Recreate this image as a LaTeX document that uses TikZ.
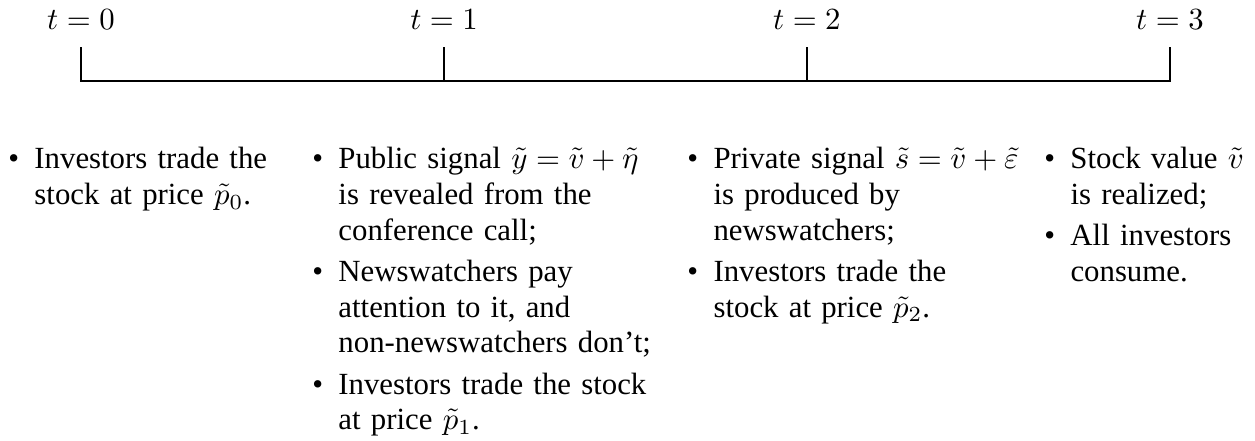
\documentclass[tikz,border=0pt]{standalone}
\usepackage{amsmath}
\usepackage[no-math]{fontspec}
\setmainfont{Liberation Serif}
\usepackage{tikz}
\usetikzlibrary{positioning}

\newcommand{\evbullet}{\leavevmode\strut\llap{\textbullet\hspace{5pt}}}

\begin{document}
\begin{tikzpicture}[
  x=1pt, y=1pt,
  tlabel/.style={inner sep=0pt},
  events/.style={
    anchor=north west,
    align=left,
    inner sep=0pt,
    font=\fontsize{10}{11.6}\selectfont
  }
]
\useasboundingbox (0,0) rectangle (407.5,-142.9);
% time line
\coordinate (t0) at (26.3,-26.3);
\coordinate (t1) at (144.2,-26.3);
\coordinate (t2) at (262.0,-26.3);
\coordinate (t3) at (379.9,-26.3);
\coordinate[above=11pt of t0] (top0);
\coordinate[above=11pt of t1] (top1);
\coordinate[above=11pt of t2] (top2);
\coordinate[above=11pt of t3] (top3);
\draw (top0) -- (t0) -- (t3) -- (top3);
\draw (top1) -- (t1);
\draw (top2) -- (t2);
\node[tlabel, above=5.6pt of top0] (lab0) {$t=0$};
\node[tlabel, above=5.6pt of top1] (lab1) {$t=1$};
\node[tlabel, above=5.6pt of top2] (lab2) {$t=2$};
\node[tlabel, above=5.6pt of top3] (lab3) {$t=3$};
% what happens at each date
\node[events, text width=85pt] (ev0) at (11.0,-46.45) {\evbullet Investors trade the\\
  stock at price $\tilde{p}_0$.};
\node[events, text width=104pt] (ev1) at (109.7,-46.45) {\evbullet Public signal $\tilde{y}=\tilde{v}+\tilde{\eta}$\\
  is revealed from the\\
  conference call;\\[1.8pt]
  \evbullet Newswatchers pay\\
  attention to it, and\\
  non-newswatchers don't;\\[1.8pt]
  \evbullet Investors trade the stock\\
  at price $\tilde{p}_1$.};
\node[events, text width=104pt] (ev2) at (231.5,-46.45) {\evbullet Private signal $\tilde{s}=\tilde{v}+\tilde{\varepsilon}$\\
  is produced by\\
  newswatchers;\\[1.8pt]
  \evbullet Investors trade the\\
  stock at price $\tilde{p}_2$.};
\node[events, text width=58pt] (ev3) at (347.4,-46.45) {\evbullet Stock value $\tilde{v}$\\
  is realized;\\[1.8pt]
  \evbullet All investors\\
  consume.};
\end{tikzpicture}
\end{document}
